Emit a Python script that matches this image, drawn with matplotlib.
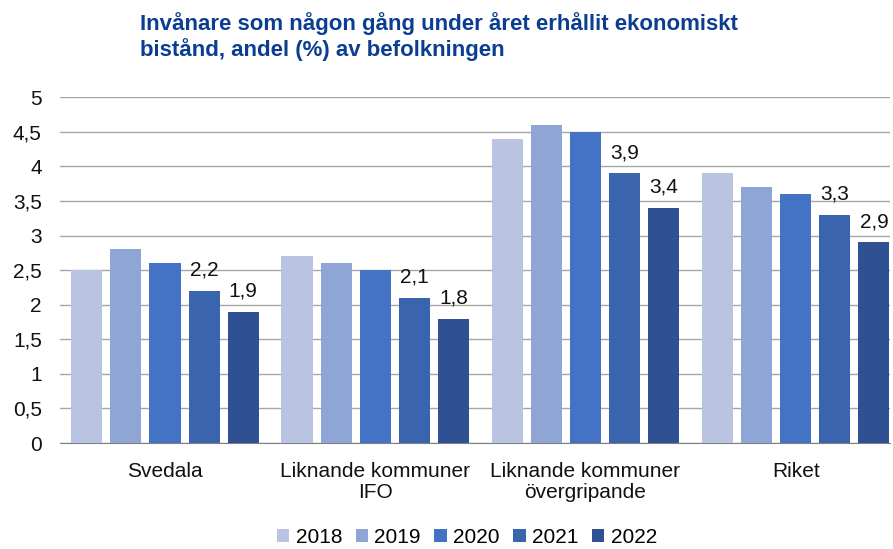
import matplotlib.pyplot as plt
import numpy as np

plt.rcParams['font.family'] = ['Liberation Sans', 'DejaVu Sans']

categories = ['Svedala', 'Liknande kommuner\nIFO', 'Liknande kommuner\növergripande', 'Riket']
years = ['2018', '2019', '2020', '2021', '2022']
v2018 = [2.5, 2.7, 4.4, 3.9]
v2019 = [2.8, 2.6, 4.6, 3.7]
v2020 = [2.6, 2.5, 4.5, 3.6]
v2021 = [2.2, 2.1, 3.9, 3.3]
v2022 = [1.9, 1.8, 3.4, 2.9]
colors = ['#b9c3e2', '#8fa5d5', '#4472c4', '#3a64ae', '#2f5193']

series = [v2018, v2019, v2020, v2021, v2022]

fig = plt.figure(figsize=(8.93, 5.49), dpi=100)
ax = fig.add_axes([0.067, 0.193, 0.93, 0.63])

x = np.arange(len(categories))
pitch = 0.186
width = 0.148
for i, vals in enumerate(series):
    pos = x + (i - 2) * pitch
    bars = ax.bar(pos, vals, width, color=colors[i], label=years[i], zorder=3)
    # only the last two years carry value labels
    if i >= 3:
        for b, v in zip(bars, vals):
            ax.annotate(str(v).replace('.', ','), (b.get_x() + b.get_width() / 2, v),
                        xytext=(0, 8), textcoords='offset points',
                        ha='center', va='bottom', fontsize=15, color='#111111')

ax.set_ylim(0, 5)
ax.set_xlim(-0.5, 3.45)
ticks = np.arange(0, 5.01, 0.5)
ax.set_yticks(ticks)
ax.set_yticklabels([('%g' % t).replace('.', ',') for t in ticks])
ax.set_xticks(x)
ax.set_xticklabels(categories, linespacing=1.1)
ax.tick_params(axis='both', length=0, labelsize=15, colors='#111111')
ax.tick_params(axis='y', pad=13)
ax.tick_params(axis='x', pad=14)
ax.grid(axis='y', color='#a6a6a6', linewidth=1, zorder=0)
for s in ['top', 'right', 'left']:
    ax.spines[s].set_visible(False)
ax.spines['bottom'].set_color('#808080')

fig.text(0.157, 0.978, 'Invånare som någon gång under året erhållit ekonomiskt\nbistånd, andel (%) av befolkningen',
         ha='left', va='top', fontsize=16, fontweight='bold', color='#0b3d91', linespacing=1.15)

ax.legend(loc='center', bbox_to_anchor=(0.49, -0.272), ncol=5, frameon=False, borderpad=0.2,
          fontsize=15, handlelength=0.6, handleheight=0.6, handletextpad=0.3, columnspacing=0.65)

fig.savefig('out.png', dpi=100)
